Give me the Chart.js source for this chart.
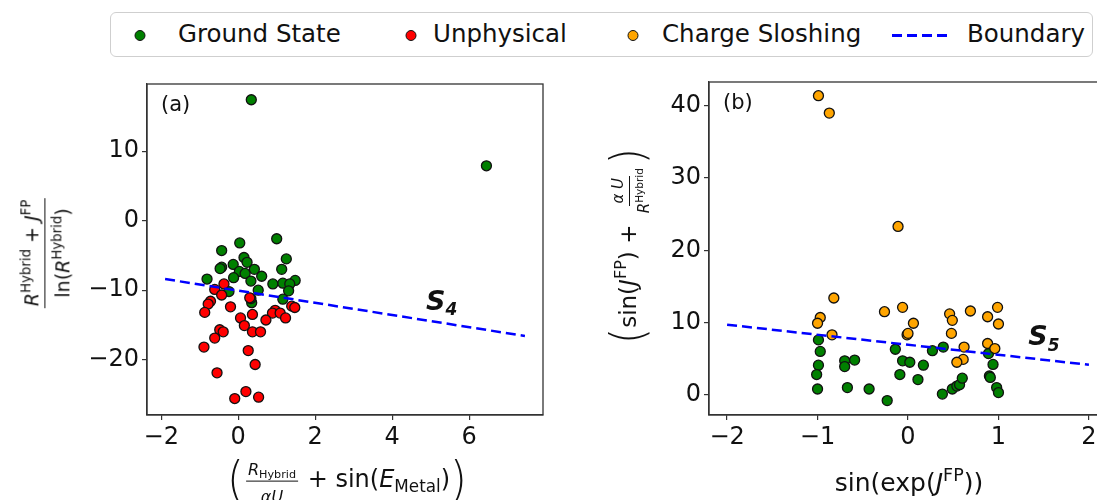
<!DOCTYPE html>
<html>
<head>
<meta charset="utf-8">
<script src="https://cdn.jsdelivr.net/npm/chart.js@4.4.0/dist/chart.umd.min.js"></script>
<style>
  html, body { margin: 0; padding: 0; background: #fff; width: 1097px; height: 500px; overflow: hidden; }
  body { position: relative; font-family: "DejaVu Sans", sans-serif; color: #111; }
  canvas { position: absolute; top: 0; }
  #chartA { left: 0; }
  #chartB { left: 560px; }
  #legend { position: absolute; left: 110px; top: 12px; width: 983px; height: 45px; box-sizing: border-box;
            border: 1px solid #cfcfcf; border-radius: 6px; background: #fff; }
  #legend .dot { position: absolute; top: 17px; width: 11px; height: 11px; border-radius: 50%;
                 border: 1.3px solid #111; box-sizing: border-box; transform: translateX(-50%); }
  #legend .txt { position: absolute; top: 7px; font-size: 24.5px; line-height: 28px; white-space: nowrap; }
  #legend .dash { position: absolute; top: 21px; height: 2.5px;
                  background: repeating-linear-gradient(90deg, #0000ff 0 10px, transparent 10px 15px); }
  .m { position: absolute; white-space: nowrap; line-height: 1; transform: translate(-50%, -50%); }
  .rot { transform: translate(-50%, -50%) rotate(-90deg); }
  .m i { font-style: italic; }
  .m sup { font-size: 0.7em; vertical-align: 0; position: relative; top: -0.6em; }
  .m sub { font-size: 0.7em; vertical-align: 0; position: relative; top: 0.3em; }
  .fr { display: inline-flex; flex-direction: column; align-items: center; vertical-align: middle; margin: 0 2px; }
  .fr > span:first-child { border-bottom: 1.4px solid #111; padding: 0.35em 2px 3px; }
  .fr > span:last-child { padding: 0.45em 2px 0; }
  .bp { display: inline-block; font-size: 1.8em; font-weight: 300; vertical-align: middle; transform: scaleY(1.1); }
</style>
</head>
<body>
<canvas id="chartA" width="560" height="500"></canvas>
<canvas id="chartB" width="560" height="500"></canvas>
<div id="legend"></div>

<div class="m rot" style="left:44px;top:253px;font-size:19px">
  <span class="fr"><span><i>R</i><sup>Hybrid</sup> + <i>J</i><sup>FP</sup></span><span>ln(<i>R</i><sup>Hybrid</sup>)</span></span>
</div>
<div class="m" style="left:347px;top:480px;font-size:24px">
  <span class="bp">(</span><span class="fr" style="font-size:16px"><span><i>R</i><sub>Hybrid</sub></span><span><i>αU</i></span></span> + sin(<i>E</i><sub>Metal</sub>)<span class="bp">)</span>
</div>
<div class="m rot" style="left:629px;top:246px;font-size:23px">
  <span class="bp">(</span>sin(<i>J</i><sup>FP</sup>) + <span class="fr" style="font-size:15px"><span><i>α U</i></span><span><i>R</i><sup>Hybrid</sup></span></span><span class="bp">)</span>
</div>
<div class="m" style="left:909px;top:482px;font-size:25px">sin(exp(<i>J</i><sup>FP</sup>))</div>

<script>
// panel (a)
const groundA = [
  [1.0,-2.6],[0.04,-3.2],[-0.43,-4.3],[0.15,-5.3],[1.25,-5.5],[0.23,-6.0],[-0.13,-6.3],[-0.43,-6.7],
  [-0.47,-6.9],[0.42,-7.0],[1.13,-7.0],[0.03,-7.3],[0.18,-7.6],[0.61,-8.0],[-0.12,-8.2],[-0.81,-8.4],
  [0.33,-8.7],[1.48,-8.6],[0.90,-9.1],[1.16,-9.0],[1.34,-9.1],[1.31,-10.1],[0.52,-10.0],[-0.24,-10.2],
  [1.16,-11.3],[0.35,-11.8],[0.33,-11.2],[0.34,17.4],[6.45,7.9]
];
const unphysA = [
  [-0.37,-9.1],[-0.61,-9.9],[-0.43,-10.7],[-0.72,-11.6],[-0.78,-12.0],[-0.87,-13.2],[-0.2,-12.4],
  [0.30,-11.1],[1.39,-12.3],[1.47,-12.5],[0.96,-12.9],[0.89,-13.3],[1.09,-13.3],[1.23,-14.0],
  [0.06,-14.0],[0.37,-13.5],[0.16,-15.1],[0.72,-14.3],[0.37,-16.0],[0.58,-16.0],[-0.48,-15.7],
  [-0.39,-16.0],[-0.61,-16.9],[-0.89,-18.2],[0.26,-18.7],[0.44,-20.7],[-0.55,-21.9],[-0.09,-25.6],
  [0.2,-24.6],[0.53,-25.4]
];
const boundaryA = [[-1.9,-8.4],[7.45,-16.6]];
const xTicksA = [-2, 0, 2, 4, 6];
const yTicksA = [-20, -10, 0, 10];

// panel (b)
const groundB = [
  [-0.99,7.6],[-0.97,6.0],[-0.99,4.1],[-1.01,2.8],[-1.0,0.8],[-0.70,4.7],[-0.70,3.9],[-0.59,4.8],
  [-0.67,1.0],[-0.43,0.8],[-0.23,-0.8],[-0.14,6.3],[-0.06,4.7],[0.02,4.5],[-0.09,2.8],[0.11,2.1],
  [0.17,4.1],[0.27,6.1],[0.39,6.6],[0.38,0.1],[0.49,0.8],[0.54,1.2],[0.57,1.4],[0.6,2.3],
  [0.89,5.7],[0.94,4.2],[0.90,2.6],[0.91,2.4],[0.98,1.0],[1.0,0.3]
];
const chargeB = [
  [-0.99,41.4],[-0.87,39.0],[-0.11,23.3],[-0.82,13.4],[-0.97,10.7],[-1.0,9.9],[-0.84,8.3],
  [-0.26,11.5],[-0.06,12.1],[0.06,9.9],[-0.01,8.3],[0.0,8.5],[0.46,11.2],[0.49,10.3],[0.69,11.6],
  [0.48,8.5],[0.62,6.6],[0.61,4.9],[0.54,4.5],[0.88,10.8],[0.99,12.1],[1.0,9.8],[0.88,7.1],[0.96,6.4]
];
const boundaryB = [[-2,9.7],[2,4.15]];
const xTicksB = [-2, -1, 0, 1, 2];
const yTicksB = [0, 10, 20, 30, 40];

const names = ['Ground State', 'Unphysical', 'Charge Sloshing', 'Boundary'];
const colors = ['#008000', '#ff0000', '#ffa500', '#0000ff'];

const pts = a => a.map(p => ({x: p[0], y: p[1]}));
const minus = v => v < 0 ? '\u2212' + Math.abs(v) : String(v);
const tickFont = {family: 'DejaVu Sans', size: 24};

// legend
const legend = document.getElementById('legend');
const legendPos = [[29, 67], [300, 322], [522, 551], [781, 856]];
names.forEach((n, i) => {
  const [mx, tx] = legendPos[i];
  if (i < 3) {
    legend.insertAdjacentHTML('beforeend', `<span class="dot" style="left:${mx}px;background:${colors[i]}"></span>`);
  } else {
    legend.insertAdjacentHTML('beforeend', `<span class="dash" style="left:${mx}px;width:55px"></span>`);
  }
  legend.insertAdjacentHTML('beforeend', `<span class="txt" style="left:${tx}px">${n}</span>`);
});

const frame = {
  id: 'frame',
  afterDraw(chart) {
    const {ctx, chartArea: a} = chart;
    ctx.save();
    ctx.strokeStyle = '#333';
    ctx.lineWidth = 1.3;
    ctx.strokeRect(a.left, a.top, a.right - a.left, a.bottom - a.top);
    ctx.restore();
  }
};

const notes = {
  id: 'notes',
  afterDraw(chart, args, opts) {
    const {ctx, chartArea: a, scales: {x, y}} = chart;
    ctx.save();
    ctx.fillStyle = '#111';
    ctx.textBaseline = 'middle';
    ctx.textAlign = 'left';
    ctx.font = '21px "DejaVu Sans"';
    ctx.fillText(opts.panel, a.left + 14, a.top + 22);
    const px = x.getPixelForValue(opts.at[0]), py = y.getPixelForValue(opts.at[1]);
    ctx.font = 'italic bold 27px "DejaVu Sans"';
    ctx.fillText('S', px, py);
    const w = ctx.measureText('S').width;
    ctx.font = 'italic bold 17px "DejaVu Sans"';
    ctx.fillText(opts.sub, px + w, py + 8);
    ctx.restore();
  }
};

function axis(min, max, ticks, fit) {
  return {
    type: 'linear', min: min, max: max,
    afterBuildTicks: s => { s.ticks = ticks.map(v => ({value: v})); },
    afterFit: fit,
    ticks: {font: tickFont, color: '#111', padding: 3, callback: minus},
    grid: {drawOnChartArea: false, tickLength: 5, color: '#333', lineWidth: 1.2},
    border: {color: '#333', width: 1.3}
  };
}

function makeChart(id, sets, xr, yr, pad, yw, note) {
  return new Chart(document.getElementById(id), {
    type: 'scatter',
    data: {datasets: sets},
    options: {
      responsive: false, animation: false, events: [],
      layout: {padding: pad},
      elements: {point: {radius: 5, borderColor: '#111', borderWidth: 1.3}},
      plugins: {legend: {display: false}, tooltip: {enabled: false}, notes: note},
      scales: {
        x: axis(xr[0], xr[1], xr[2], s => { s.height = 85; }),
        y: axis(yr[0], yr[1], yr[2], s => { s.width = yw; })
      }
    },
    plugins: [frame, notes]
  });
}

const lineSet = d => ({label: names[3], data: pts(d), showLine: true, borderColor: colors[3],
  borderWidth: 2.5, borderDash: [10, 5], pointRadius: 0, order: 0});

makeChart('chartA', [
  lineSet(boundaryA),
  {label: names[1], data: pts(unphysA), backgroundColor: colors[1], order: 1},
  {label: names[0], data: pts(groundA), backgroundColor: colors[0], order: 2}
], [-2.37, 7.92, xTicksA], [-27.97, 19.67, yTicksA], {left: 0, top: 84, right: 17, bottom: 0}, 147,
  {panel: '(a)', sub: '4', at: [4.88, -11.8]});

makeChart('chartB', [
  lineSet(boundaryB),
  {label: names[2], data: pts(chargeB), backgroundColor: colors[2], order: 1},
  {label: names[0], data: pts(groundB), backgroundColor: colors[0], order: 2}
], [-2.2, 2.2, xTicksB], [-2.8, 43.3, yTicksB], {left: 0, top: 82, right: 13, bottom: 0}, 149,
  {panel: '(b)', sub: '5', at: [1.33, 7.8]});
</script>
</body>
</html>
